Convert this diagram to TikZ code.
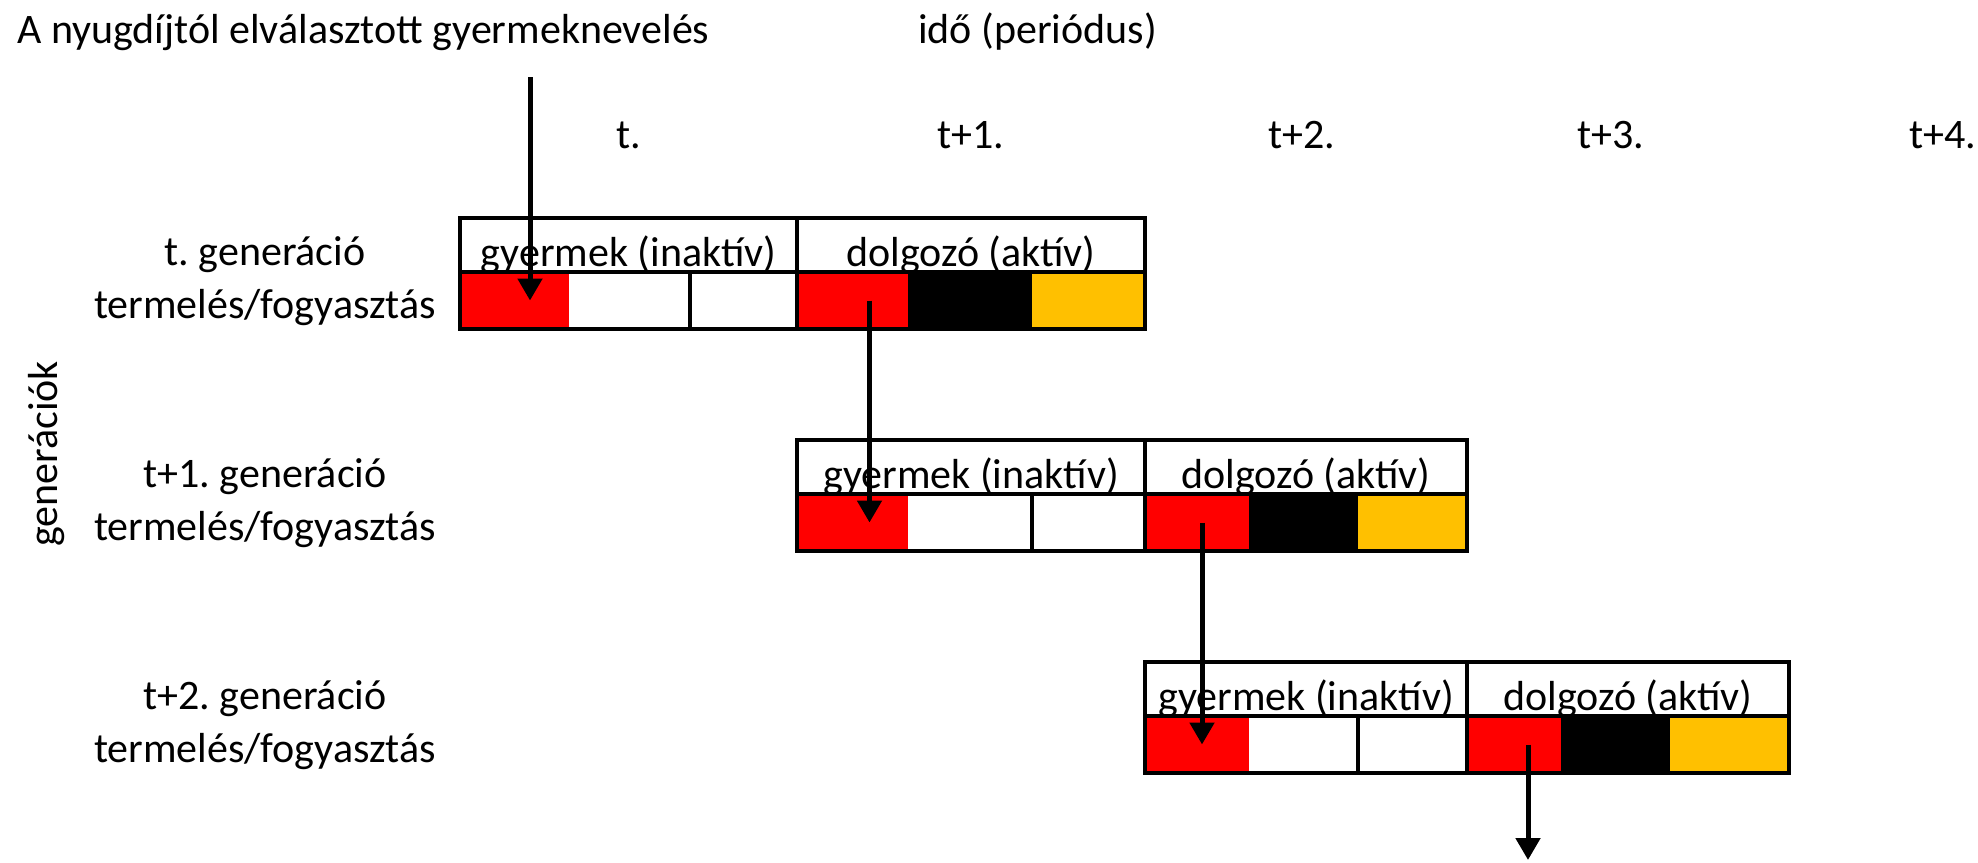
\documentclass[tikz,border=0pt]{standalone}
\usepackage{fontspec}
\setmainfont{Carlito}
\usetikzlibrary{arrows.meta}
\definecolor{piros}{RGB}{255,0,0}
\definecolor{sarga}{RGB}{255,192,0}
\tikzset{
  szoveg/.style={font=\fontsize{42}{56}\selectfont, inner sep=0pt},
  cella/.style={draw=none, inner sep=0pt, outer sep=0pt, anchor=north west},
  keret/.style={line width=4pt},
  vonal/.style={line width=3.5pt},
  nyil/.style={line width=5pt, -{Triangle[length=22pt,width=24pt]}}
}
% oszlophatarok (px)
\def\oszlop{{460,569,690,797,908,1032,1145,1249,1358,1467,1561,1670,1789}}

\begin{document}
\begin{tikzpicture}[x=1pt,y=-1pt]
    \useasboundingbox (0,0) rectangle (1978,862);
    \node[szoveg, anchor=base west] (cim) at (17,43) {A nyugdíjtól elválasztott gyermeknevelés};
    \node[szoveg, anchor=base west] (ido) at (918,43) {idő (periódus)};
    \foreach \p/\x [count=\i from 0] in {t./629, t+1./971, t+2./1302, t+3./1611, t+4./1943}
        \node[szoveg, anchor=base] (per\i) at (\x,148) {\p};
    \node[szoveg, rotate=90] (gen) at (47,454) {generációk};

    \foreach \g/\lab in {0/t., 1/t+1., 2/t+2.} {
        \pgfmathsetmacro\T{218+222*\g}
        \pgfmathsetmacro\xa{\oszlop[3*\g]}
        \pgfmathsetmacro\xc{\oszlop[3*\g+2]}
        \pgfmathsetmacro\xd{\oszlop[3*\g+3]}
        \pgfmathsetmacro\xg{\oszlop[3*\g+6]}
        \node[szoveg, anchor=base] (lab\g) at (265,\T+47) {\lab\ generáció};
        \node[szoveg, anchor=base] (tf\g) at (265,\T+100) {termelés/fogyasztás};
        \foreach \k/\szin/\nev in {0/piros/g1, 1/white/g2, 2/white/g3, 3/piros/d1, 4/black/d2, 5/sarga/d3} {
            \pgfmathsetmacro\xp{\oszlop[3*\g+\k]}
            \pgfmathsetmacro\xq{\oszlop[3*\g+\k+1]}
            \node[cella, fill=\szin, minimum width=\xq-\xp, minimum height=57] (b\g\nev) at (\xp,\T+54) {};
        }
        \node[szoveg, anchor=base] (b\g h1) at ({(\xa+\xd)/2},\T+48) {gyermek (inaktív)};
        \node[szoveg, anchor=base] (b\g h2) at ({(\xd+\xg)/2},\T+48) {dolgozó (aktív)};
        \draw[vonal] (\xa,\T+54) -- (\xg,\T+54);
        \draw[vonal] (\xd,\T) -- (\xd,\T+111);
        \draw[vonal] (\xc,\T+54) -- (\xc,\T+111);
        \draw[keret] (\xa,\T) rectangle (\xg,\T+111);
    }

    \coordinate (forras) at (530,77);
    \coordinate (kimenet) at (1528,860);
    \draw[nyil] (forras) -- (forras |- b0g1.center);
    \draw[nyil] ([xshift=17pt]b0d1.center) -- ([xshift=17pt]b1g1.center);
    \draw[nyil] ([xshift=5pt]b1d1.center) -- ([xshift=5pt]b2g1.center);
    \draw[nyil] ([xshift=14pt]b2d1.center) -- (kimenet);
\end{tikzpicture}
\end{document}
